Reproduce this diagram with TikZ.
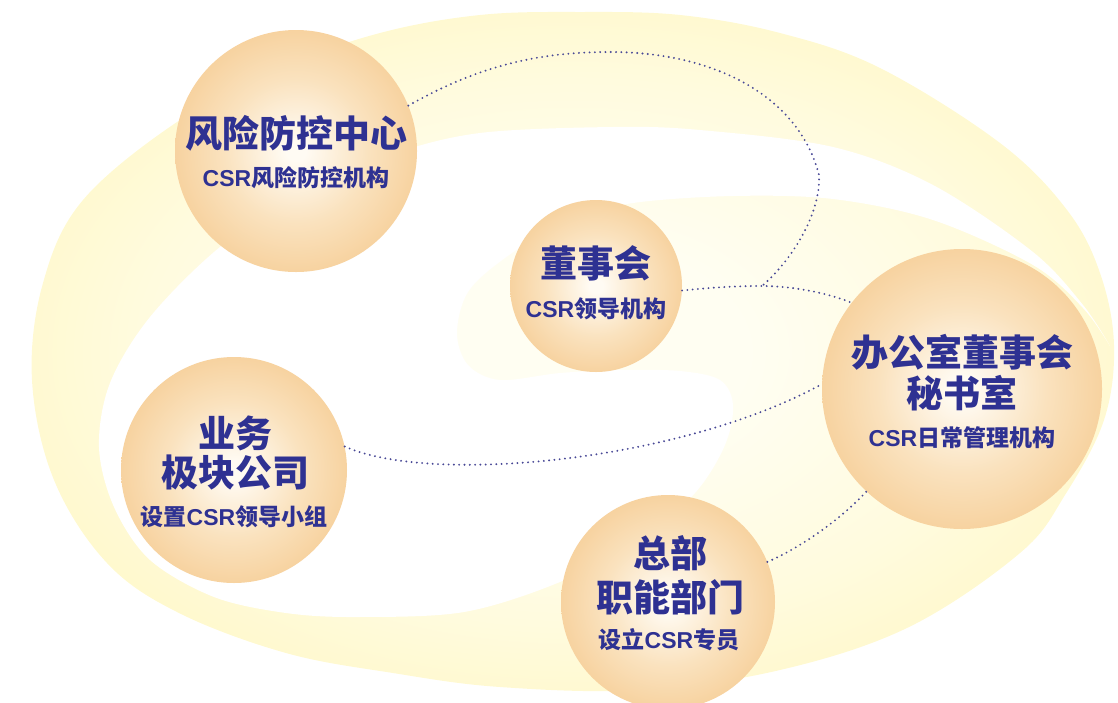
\documentclass[tikz,border=0pt]{standalone}
\usepackage{fontspec}
\setmainfont{Noto Sans CJK SC}
\newfontfamily\latinb{Liberation Sans}
\newcommand\CSRtxt{{\latinb CSR}}
\definecolor{navy}{RGB}{46,49,146}
\definecolor{dotc}{RGB}{72,72,150}
\definecolor{bandA}{RGB}{255,254,242}
\definecolor{bandB}{RGB}{255,251,222}
\definecolor{bandC}{RGB}{255,248,202}
\definecolor{bandD}{RGB}{255,246,190}
\definecolor{ballA}{RGB}{255,251,243}
\definecolor{ballB}{RGB}{250,226,190}
\definecolor{ballC}{RGB}{244,195,130}
\pgfdeclareradialshading{bandshade}{\pgfpoint{0bp}{0bp}}{color(0bp)=(bandA); color(8bp)=(bandA); color(20bp)=(bandB); color(28bp)=(bandC); color(35bp)=(bandD); color(50bp)=(bandD)}
\pgfdeclareradialshading{ballshade}{\pgfpoint{0bp}{0bp}}{color(0bp)=(ballA); color(2bp)=(ballA); color(15bp)=(ballB); color(35bp)=(ballC); color(50bp)=(ballC)}
\begin{document}
\begin{tikzpicture}[x=1pt,y=-1pt,
  bubble/.style={circle, shade, shading=ballshade, draw=none, inner sep=0pt},
  ttl/.style={text=navy, font=\fontsize{37}{40}\selectfont\bfseries, inner sep=0pt},
  subt/.style={text=navy, font=\fontsize{23}{26}\selectfont\bfseries, inner sep=0pt},
  link/.style={draw=dotc, line width=2.1pt, dash pattern=on 0pt off 5.3pt, line cap=round}]
\useasboundingbox (0,0) rectangle (1118,702);
% background spiral band
\shade[shading=bandshade] plot[smooth cycle, tension=0.6] coordinates {(580,12) (680,15) (780,33) (880,68) (1000,143) (1067,210) (1100,273) (1114,345) (1104,420) (1065,495) (1020,553) (909,627) (780,670) (640,690) (500,687) (393,673) (286,653) (179,613) (107,563) (54,480) (32,380) (43,283) (83,200) (180,120) (280,68) (380,33) (480,15)};
\fill[white] plot[smooth, tension=0.55] coordinates {(1110,346) (1083,305) (1033,252) (933,185) (833,147) (700,130) (613,127) (480,133) (390,155) (300,195) (220,247) (150,317) (110,383) (99,447) (114,507) (150,560) (214,597) (286,613) (357,617) (464,612) (560,582) (640,540) (695,493) (725,445) (733,405) (720,380) (680,371) (620,370) (560,373) (500,380) (468,365) (457,333) (468,292) (505,258) (567,220) (633,203) (733,196) (833,199) (933,220) (1033,265) (1083,308) (1110,346)} -- cycle;
% circles
\node[bubble, minimum size=242pt] (risk) at (296,151) {};
\node[bubble, minimum size=172pt] (board) at (596,286) {};
\node[bubble, minimum size=280pt] (office) at (962,389) {};
\node[bubble, minimum size=226pt] (biz) at (234,470) {};
\node[bubble, minimum size=214pt] (hq) at (668,602) {};
% connectors
\coordinate (jn) at (762,286);
\coordinate (arcA) at (610,52);
\coordinate (arcB) at (819,175);
\draw[link] (risk.22) .. controls (480,65) and (540,52) .. (arcA) .. controls (720,52) and (800,100) .. (arcB) .. controls (821,215) and (790,262) .. (jn);
\draw[link] (board.-3) .. controls (715,287) and (740,286) .. (jn) .. controls (790,286) and (825,292) .. (office.142);
\draw[link] (biz.12) .. controls (430,485) and (680,462) .. (office.178);
\draw[link] (hq.22) .. controls (800,548) and (840,520) .. (office.227);
% texts
\node[ttl] (risk-a) at (296,133) {风险防控中心};
\node[subt] (risk-b) at (296,178) {\CSRtxt 风险防控机构};
\node[ttl] (board-a) at (596,263) {董事会};
\node[subt] (board-b) at (596,309) {\CSRtxt 领导机构};
\node[ttl] (office-a) at (962,352) {办公室董事会};
\node[ttl] (office-b) at (962,393) {秘书室};
\node[subt] (office-c) at (962,438) {\CSRtxt 日常管理机构};
\node[ttl] (biz-a) at (235,433) {业务};
\node[ttl] (biz-b) at (235,473) {极块公司};
\node[subt] (biz-c) at (234,517) {设置\CSRtxt 领导小组};
\node[ttl] (hq-a) at (670,553) {总部};
\node[ttl] (hq-b) at (670,597) {职能部门};
\node[subt] (hq-c) at (669,640) {设立\CSRtxt 专员};
\end{tikzpicture}
\end{document}
